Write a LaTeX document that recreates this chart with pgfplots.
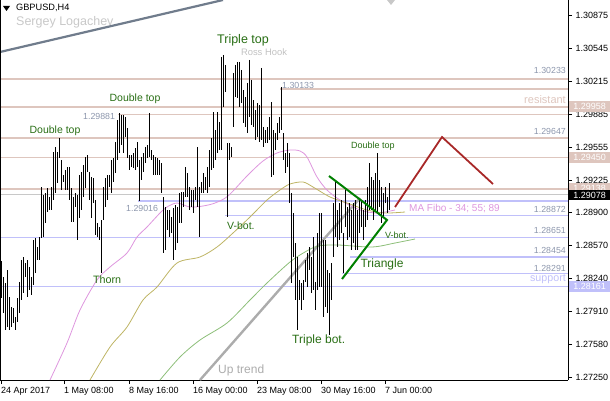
\documentclass[border=0pt]{standalone}
\usepackage{fontspec}
\setmainfont{Liberation Sans}
\usepackage{pgfplots}
\pgfplotsset{compat=1.18}
\usepackage{pgfplotstable}
\definecolor{resline}{RGB}{222,198,190}
\definecolor{supline}{RGB}{192,192,250}
\definecolor{numcol}{RGB}{140,150,172}
\definecolor{grtxt}{RGB}{40,110,20}
\definecolor{ma34}{RGB}{222,150,222}
\definecolor{ma55}{RGB}{190,180,100}
\definecolor{ma89}{RGB}{140,190,120}
\definecolor{trgreen}{RGB}{0,128,0}
\definecolor{zzred}{RGB}{168,40,40}
\definecolor{uptrend}{RGB}{172,172,172}
\definecolor{steel}{RGB}{112,124,140}
\definecolor{lgray}{RGB}{200,200,200}
\pgfplotstableread{
x hi lo
1 1.28415 1.28045
3 1.28255 1.27895
5 1.28195 1.27725
7 1.28325 1.27755
9 1.28055 1.27725
11 1.27955 1.27755
13 1.27945 1.27795
15 1.27855 1.27725
17 1.28045 1.27805
19 1.28205 1.27895
21 1.28425 1.28025
23 1.28455 1.28095
25 1.28395 1.28255
27 1.28425 1.28055
29 1.28355 1.28125
31 1.28255 1.28075
33 1.28625 1.28175
35 1.28645 1.28295
37 1.28555 1.28425
39 1.28655 1.28425
41 1.29155 1.28645
43 1.29075 1.28655
45 1.29095 1.28795
47 1.29145 1.28905
49 1.29055 1.28925
51 1.29155 1.28925
53 1.29505 1.29025
55 1.29555 1.29095
57 1.29505 1.29195
59 1.29645 1.29445
61 1.29425 1.29125
63 1.29275 1.29205
65 1.29325 1.29125
67 1.29355 1.29125
69 1.29355 1.29025
71 1.29145 1.28805
73 1.29055 1.28805
75 1.29095 1.28955
77 1.29075 1.28625
79 1.29275 1.28845
81 1.29305 1.28925
83 1.29375 1.29055
85 1.29455 1.29145
87 1.29475 1.29305
89 1.29305 1.29025
91 1.29255 1.28845
93 1.29245 1.28995
95 1.29025 1.28675
97 1.28795 1.28655
99 1.28755 1.28625
101 1.28825 1.28295
103 1.29155 1.28825
105 1.29245 1.28955
107 1.29275 1.29025
109 1.29275 1.29155
111 1.29425 1.29095
113 1.29445 1.29205
115 1.29605 1.29295
117 1.29825 1.29425
119 1.29895 1.29495
121 1.29875 1.29575
123 1.29875 1.29495
125 1.29855 1.29655
127 1.29745 1.29445
129 1.29475 1.29325
131 1.29475 1.29355
133 1.29495 1.29345
135 1.29545 1.29325
137 1.29605 1.29355
139 1.29425 1.29015
141 1.29455 1.29225
143 1.29495 1.29305
145 1.29555 1.29395
147 1.29575 1.29445
149 1.29895 1.29455
151 1.29525 1.29425
153 1.29475 1.29275
155 1.29455 1.29275
157 1.29445 1.29275
159 1.29425 1.29275
161 1.29395 1.29095
163 1.29055 1.28495
165 1.28955 1.28525
167 1.28925 1.28725
169 1.28925 1.28655
171 1.28855 1.28695
173 1.28945 1.28425
175 1.28975 1.28525
177 1.28955 1.28595
179 1.29095 1.28795
181 1.29105 1.28795
183 1.29105 1.28955
185 1.29355 1.29055
187 1.29295 1.29055
189 1.29155 1.28925
191 1.29125 1.28955
193 1.29125 1.28895
195 1.29155 1.29025
197 1.29555 1.28955
199 1.29155 1.28655
201 1.29205 1.29095
203 1.29295 1.29095
205 1.29255 1.29125
207 1.29355 1.29095
209 1.29525 1.29155
211 1.29645 1.29325
213 1.29905 1.29345
215 1.29725 1.29425
217 1.29905 1.29495
219 1.29805 1.29525
221 1.30455 1.29525
223 1.30475 1.29955
225 1.30375 1.30105
227 1.29595 1.28855
229 1.29595 1.29425
231 1.29555 1.29455
233 1.30295 1.29755
235 1.30375 1.30055
237 1.30405 1.30045
239 1.30405 1.29955
241 1.30325 1.29995
243 1.30125 1.29795
245 1.30055 1.29755
247 1.30195 1.29695
249 1.30425 1.29855
251 1.30225 1.29775
253 1.30025 1.29755
255 1.29925 1.29625
257 1.29995 1.29655
259 1.29975 1.29605
261 1.30345 1.29625
263 1.29755 1.29555
265 1.29725 1.29595
267 1.29755 1.29595
269 1.29855 1.29625
271 1.30005 1.29255
273 1.29725 1.29275
275 1.29695 1.29525
277 1.29795 1.29625
279 1.29855 1.29695
281 1.30155 1.29725
283 1.29695 1.29425
285 1.29495 1.29295
287 1.29595 1.29355
289 1.29495 1.28995
291 1.29095 1.28195
293 1.28895 1.28455
295 1.28595 1.28025
297 1.28455 1.27725
299 1.28225 1.28025
301 1.28195 1.27925
303 1.28225 1.28025
305 1.28425 1.28205
307 1.28495 1.28155
309 1.28555 1.28325
311 1.28455 1.28095
313 1.28655 1.28125
315 1.28205 1.27925
317 1.28695 1.28125
319 1.28895 1.28155
321 1.28895 1.28155
323 1.28625 1.27855
325 1.28625 1.27955
327 1.28325 1.27895
329 1.28295 1.27675
331 1.28395 1.28025
333 1.28995 1.28455
335 1.29225 1.28655
337 1.28925 1.28555
339 1.28995 1.28625
341 1.29025 1.28695
343 1.28695 1.28295
345 1.29125 1.28755
347 1.28955 1.28625
349 1.28995 1.28655
351 1.28925 1.28525
353 1.28995 1.28595
355 1.29025 1.28525
357 1.28925 1.28525
359 1.29025 1.28695
361 1.29025 1.28755
363 1.28925 1.28625
365 1.29025 1.28755
367 1.29155 1.28825
369 1.29395 1.28925
371 1.29255 1.28925
373 1.29225 1.28825
375 1.29295 1.28925
377 1.29495 1.28895
379 1.29225 1.28955
381 1.29155 1.28795
383 1.29095 1.28855
385 1.29155 1.28995
387 1.29055 1.28895
389 1.29195 1.28925
}\bars
\begin{document}
\begin{tikzpicture}
\begin{axis}[
  at={(0pt,20pt)}, anchor=south west, scale only axis,
  width=568pt, height=380pt,
  xmin=0, xmax=568, ymin=1.27225, ymax=1.31025,
  axis x line*=bottom, axis y line*=right,
  axis line style={black, line width=0.8pt, -},
  tick align=outside, major tick length=4pt,
  tick style={black, line width=0.6pt},
  xtick={1,64,129,193,257,321,385},
  xticklabels={24 Apr 2017,1 May 08:00,8 May 16:00,16 May 00:00,23 May 08:00,30 May 16:00,7 Jun 00:00},
  xticklabel style={font=\fontsize{9}{10}\selectfont, anchor=north west, inner sep=0pt, yshift=-3pt},
  ytick={1.30875,1.30545,1.30215,1.29885,1.29555,1.29225,1.28900,1.28570,1.28240,1.27910,1.27580,1.27250},
  scaled y ticks=false,
  yticklabel style={font=\fontsize{9}{10}\selectfont, /pgf/number format/fixed, /pgf/number format/fixed zerofill, /pgf/number format/precision=5},
  /pgf/number format/assume math mode=true,
  clip mode=individual,
]
% resistance lines
\addplot[resline, line width=1.6pt, forget plot] coordinates {(0,1.30233) (568,1.30233)};
\addplot[resline, line width=1.6pt, forget plot] coordinates {(280,1.30133) (568,1.30133)};
\addplot[resline, line width=1.6pt, forget plot] coordinates {(0,1.29958) (568,1.29958)};
\addplot[resline, line width=1.6pt, forget plot] coordinates {(118,1.29881) (568,1.29881)};
\addplot[resline, line width=1.6pt, forget plot] coordinates {(0,1.29647) (568,1.29647)};
\addplot[resline, line width=1.6pt, forget plot] coordinates {(0,1.29450) (568,1.29450)};
\addplot[resline, line width=1.6pt, forget plot] coordinates {(0,1.29138) (568,1.29138)};
\addplot[lgray, line width=0.8pt, forget plot] coordinates {(0,1.29078) (568,1.29078)};
% support lines
\addplot[supline, line width=1.6pt, forget plot] coordinates {(138,1.29016) (568,1.29016)};
\addplot[supline, line width=1.6pt, forget plot] coordinates {(225,1.28872) (568,1.28872)};
\addplot[supline, line width=1.6pt, forget plot] coordinates {(0,1.28651) (568,1.28651)};
\addplot[supline, line width=1.6pt, forget plot] coordinates {(350,1.28454) (568,1.28454)};
\addplot[supline, line width=1.6pt, forget plot] coordinates {(342,1.28291) (568,1.28291)};
\addplot[supline, line width=1.6pt, forget plot] coordinates {(0,1.28161) (568,1.28161)};
% trend lines
\addplot[steel, line width=2.2pt, forget plot] coordinates {(0,1.30505) (223,1.31025)};
\addplot[uptrend, line width=2.4pt, forget plot] coordinates {(200,1.27225) (360,1.29045)};
% moving averages
\addplot[ma34, line width=0.8pt, smooth, forget plot] coordinates {(50,1.27225) (67,1.27595) (80,1.27925) (97,1.28225) (110,1.28355) (127,1.28495) (137,1.28655) (147,1.28755) (160,1.28895) (167,1.28955) (177,1.28995) (190,1.28955) (203,1.28965) (215,1.28995) (228,1.29065) (247,1.29265) (263,1.29415) (277,1.29495) (290,1.29525) (300,1.29515) (307,1.29455) (317,1.29255) (327,1.29125) (340,1.29025) (360,1.28925) (377,1.28895) (395,1.28925)};
\addplot[ma55, line width=0.8pt, smooth, forget plot] coordinates {(90,1.27225) (110,1.27555) (127,1.27755) (143,1.28025) (157,1.28155) (177,1.28395) (200,1.28455) (217,1.28555) (233,1.28695) (250,1.28855) (267,1.29025) (280,1.29125) (290,1.29185) (303,1.29205) (313,1.29155) (330,1.29055) (347,1.28995) (367,1.28925) (385,1.28895) (405,1.28905)};
\addplot[ma89, line width=0.8pt, smooth, forget plot] coordinates {(160,1.27225) (180,1.27455) (200,1.27625) (227,1.27795) (250,1.28025) (267,1.28195) (290,1.28405) (305,1.28505) (318,1.28565) (338,1.28575) (372,1.28555) (395,1.28595) (415,1.28635)};
% price bars (high-low)
\addplot[draw=none, mark=none, forget plot, error bars/.cd, y dir=minus, y explicit, error mark=none, error bar style={draw=black, line width=1pt}] table[x=x, y=hi, y error expr=\thisrow{hi}-\thisrow{lo}] {\bars};
% triangle
\addplot[trgreen, line width=2pt, forget plot] coordinates {(329,1.29265) (387,1.28825) (342,1.28235)};
% zigzag
\addplot[zzred, line width=1.8pt, forget plot] coordinates {(395,1.28955) (442,1.29655) (493,1.29185)};
\draw[black, line width=1pt] (rel axis cs:0,0) -- (rel axis cs:0,1);
\end{axis}
\pgfresetboundingbox
\path[use as bounding box] (0,0) rectangle (610pt,400pt);
% text annotations (positions in pixels of the 610x400 frame)
\fill[black] (3pt,394pt) -- (10pt,394pt) -- (6.5pt,389pt) -- cycle;
\fill[lgray] (387pt,400pt) -- (395pt,400pt) -- (391pt,395pt) -- cycle;
\node[anchor=west, inner sep=0pt, font=\fontsize{9.2}{10}\selectfont] at (16pt,392pt) {GBPUSD,H4};
\node[anchor=west, inner sep=0pt, text=lgray, font=\fontsize{12.5}{14}\selectfont] at (16pt,378pt) {Sergey Logachev};
\node[inner sep=0pt, text=grtxt, font=\fontsize{12.5}{14}\selectfont] at (243pt,360pt) {Triple top};
\node[inner sep=0pt, text=lgray!90!gray, font=\fontsize{9.4}{10}\selectfont] at (264pt,348pt) {Ross Hook};
\node[anchor=west, inner sep=0pt, text=numcol, font=\fontsize{8.8}{10}\selectfont] at (282pt,315pt) {1.30133};
\node[inner sep=0pt, text=grtxt, font=\fontsize{10.5}{12}\selectfont] at (135pt,301pt) {Double top};
\node[anchor=west, inner sep=0pt, text=numcol, font=\fontsize{8.8}{10}\selectfont] at (83pt,284pt) {1.29881};
\node[inner sep=0pt, text=grtxt, font=\fontsize{10.5}{12}\selectfont] at (55pt,269pt) {Double top};
\node[inner sep=0pt, text=grtxt, font=\fontsize{9}{10}\selectfont] at (373pt,254pt) {Double top};
\node[anchor=west, inner sep=0pt, text=numcol, font=\fontsize{8.8}{10}\selectfont] at (126pt,192pt) {1.29016};
\node[anchor=west, inner sep=0pt, text=grtxt, font=\fontsize{10.5}{12}\selectfont] at (227pt,174pt) {V-bot.};
\node[anchor=west, inner sep=0pt, text=grtxt, font=\fontsize{9}{10}\selectfont] at (385pt,165pt) {V-bot.};
\node[inner sep=0pt, text=grtxt, font=\fontsize{12}{14}\selectfont] at (382pt,136pt) {Triangle};
\node[anchor=west, inner sep=0pt, text=ma34, font=\fontsize{10}{12}\selectfont] at (409pt,191pt) {MA Fibo - 34; 55; 89};
\node[anchor=west, inner sep=0pt, text=grtxt, font=\fontsize{10.7}{12}\selectfont] at (93pt,120pt) {Thorn};
\node[anchor=west, inner sep=0pt, text=grtxt, font=\fontsize{12}{14}\selectfont] at (292pt,60pt) {Triple bot.};
\node[anchor=west, inner sep=0pt, text=uptrend, font=\fontsize{12}{14}\selectfont] at (218pt,30pt) {Up trend};
\node[anchor=east, inner sep=0pt, text=numcol, font=\fontsize{8.8}{10}\selectfont] at (566pt,330pt) {1.30233};
\node[anchor=east, inner sep=0pt, text=resline, font=\fontsize{11}{12}\selectfont] at (566pt,300pt) {resistant};
\node[anchor=east, inner sep=0pt, text=numcol, font=\fontsize{8.8}{10}\selectfont] at (566pt,269pt) {1.29647};
\node[anchor=east, inner sep=0pt, text=numcol, font=\fontsize{8.8}{10}\selectfont] at (566pt,191pt) {1.28872};
\node[anchor=east, inner sep=0pt, text=numcol, font=\fontsize{8.8}{10}\selectfont] at (566pt,170pt) {1.28651};
\node[anchor=east, inner sep=0pt, text=numcol, font=\fontsize{8.8}{10}\selectfont] at (566pt,150pt) {1.28454};
\node[anchor=east, inner sep=0pt, text=numcol, font=\fontsize{8.8}{10}\selectfont] at (566pt,132pt) {1.28291};
\node[anchor=east, inner sep=0pt, text=supline, font=\fontsize{10.7}{12}\selectfont] at (566pt,121pt) {support};
% price boxes on the right scale
\node[anchor=west, fill=resline, text=white, inner sep=0pt, minimum width=41pt, minimum height=11pt, font=\fontsize{9}{10}\selectfont] at (569pt,293.3pt) {1.29958};
\node[anchor=west, fill=resline, text=white, inner sep=0pt, minimum width=41pt, minimum height=11pt, font=\fontsize{9}{10}\selectfont] at (569pt,242.5pt) {1.29450};
\node[anchor=west, fill=resline, text=white, inner sep=0pt, minimum width=41pt, minimum height=11pt, font=\fontsize{9}{10}\selectfont] at (569pt,211.3pt) {1.29138};
\node[anchor=west, fill=black, text=white, inner sep=0pt, minimum width=41pt, minimum height=10pt, font=\fontsize{9}{10}\selectfont] at (569pt,204.8pt) {1.29078};
\node[anchor=west, fill=supline, text=white, inner sep=0pt, minimum width=41pt, minimum height=11pt, font=\fontsize{9}{10}\selectfont] at (569pt,113.6pt) {1.28161};
\end{tikzpicture}
\end{document}
